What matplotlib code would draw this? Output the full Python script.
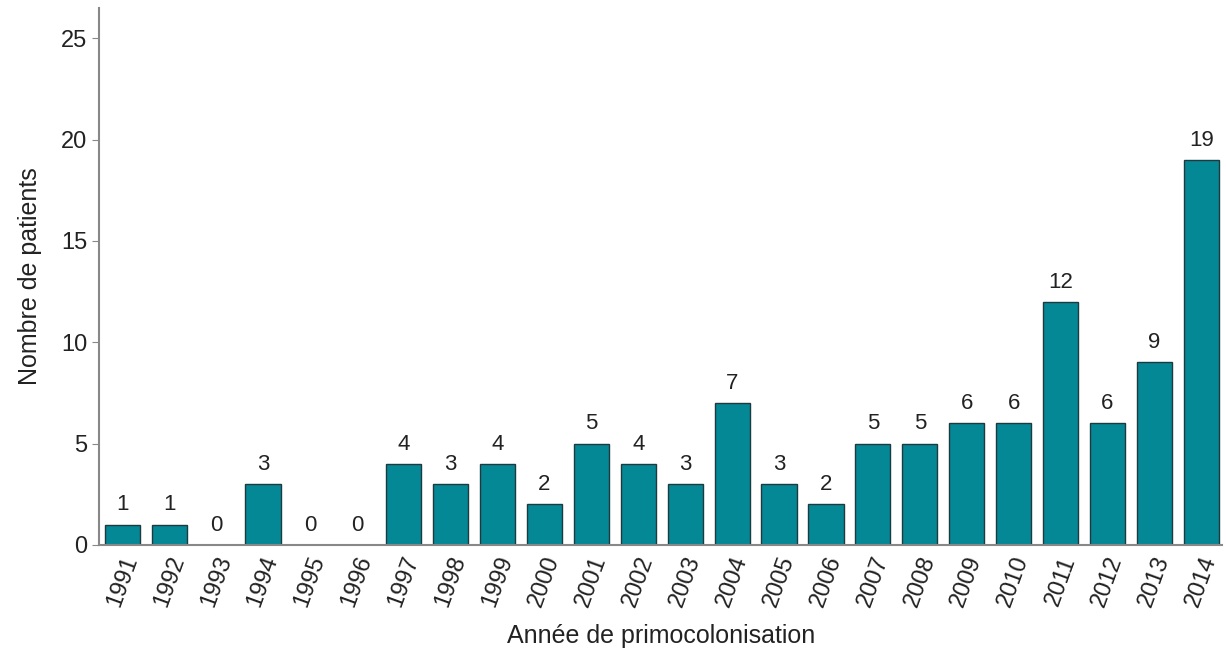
import numpy as np
import matplotlib.pyplot as plt

years = [str(y) for y in range(1991, 2015)]
patients = [1, 1, 0, 3, 0, 0, 4, 3, 4, 2, 5, 4, 3, 7, 3, 2, 5, 5, 6, 6, 12, 6, 9, 19]

plt.rcParams['font.family'] = ['Liberation Sans', 'DejaVu Sans']

fig = plt.figure(figsize=(12.26, 6.51), dpi=100)
ax = fig.add_axes([0.081, 0.163, 0.916, 0.825])

x = np.arange(len(years))
bars = ax.bar(x, patients, width=0.75, color='#058896', edgecolor='#1d3a3e', linewidth=1)

for xi, v in zip(x, patients):
    ax.text(xi, v + 0.45, str(v), ha='center', va='bottom', fontsize=16, color='#222222')

ax.set_xlim(-0.49, len(years) - 0.55)
ax.set_ylim(0, 26.5)
ax.set_yticks([0, 5, 10, 15, 20, 25])
ax.set_xticks(x)
ax.set_xticklabels(years, rotation=70, ha='center', fontsize=17)
ax.tick_params(axis='y', labelsize=17, length=5, color='#888888', labelcolor='#222222')
ax.tick_params(axis='x', length=0, pad=6, labelcolor='#222222')

for s in ['top', 'right']:
    ax.spines[s].set_visible(False)
for s in ['left', 'bottom']:
    ax.spines[s].set_color('#888888')
    ax.spines[s].set_linewidth(1.5)

ax.set_ylabel('Nombre de patients', fontsize=18, color='#222222', labelpad=14)
ax.set_xlabel('Année de primocolonisation', fontsize=18, color='#222222', labelpad=10)

fig.savefig('out.png', dpi=100)
